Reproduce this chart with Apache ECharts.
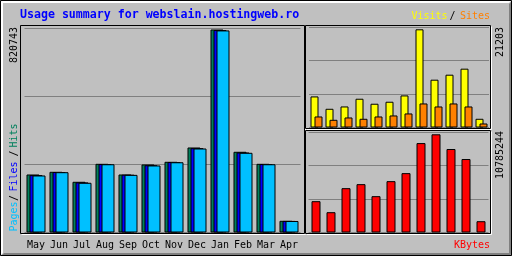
<!DOCTYPE html>
<html>
<head>
<meta charset="utf-8">
<style>
  html, body { margin: 0; padding: 0; background: #c0c0c0; }
  #chart { width: 512px; height: 256px; }
</style>
<script src="https://cdn.jsdelivr.net/npm/echarts@6/dist/echarts.min.js"></script>
</head>
<body>
<div id="chart"></div>
<script>
  // monthly usage
  var months = ['May', 'Jun', 'Jul', 'Aug', 'Sep', 'Oct', 'Nov', 'Dec', 'Jan', 'Feb', 'Mar', 'Apr']
  var hits = [234500, 245400, 205000, 277700, 234500, 275000, 285800, 343700, 820743, 326300, 277700, 47300]
  var files = [232000, 244600, 202500, 276800, 233700, 272000, 285000, 341000, 818500, 323500, 276800, 46800]
  var pages = [230500, 243800, 201000, 276000, 233000, 271000, 284000, 339600, 817000, 322200, 276000, 46500]
  var visits = [6708, 4040, 4544, 6210, 5130, 5560, 6925, 21203, 10320, 11400, 12700, 1880]
  var sites = [2380, 1660, 2164, 1880, 2380, 2600, 3030, 5190, 4540, 5190, 4540, 865]
  var kbytes = [3440000, 2230000, 4870000, 5310000, 3990000, 5640000, 6520000, 9820000, 10785244, 9170000, 8070000, 1240000]

  var GREEN = '#00805c', BLUE = '#0000ff', CYAN = '#00c0ff'
  var YELLOW = '#ffff00', ORANGE = '#ff8000', RED = '#ff0000'
  var MONO = '"DejaVu Sans Mono", "Liberation Mono", monospace'

  var maxHits = Math.max.apply(null, hits)
  var maxVisits = Math.max.apply(null, visits)
  var maxKb = Math.max.apply(null, kbytes)

  // each panel keeps 3 equal bands, the tallest bar sits just under the top
  var mainStep = Math.round(maxHits * 204 / 203 / 3)
  var visStep = Math.round(maxVisits * 100.5 / 98.2 / 3)
  var kbStep = Math.round(maxKb * 100.5 / 98.2 / 3)

  function valueAxis(idx, step) {
    return {
      type: 'value', gridIndex: idx, min: 0, max: step * 3, interval: step,
      axisLine: {show: false}, axisTick: {show: false}, axisLabel: {show: false},
      splitLine: {lineStyle: {color: '#808080', width: 1}}
    }
  }

  function catAxis(idx, showLabel) {
    return {
      type: 'category', gridIndex: idx, data: months,
      axisLine: {show: false}, axisTick: {show: false},
      axisLabel: {show: showLabel, margin: 8, color: '#000', fontFamily: MONO, fontSize: 10, interval: 0}
    }
  }

  function bar(name, data, color, xi, width, gap) {
    return {
      name: name, type: 'bar', data: data, xAxisIndex: xi, yAxisIndex: xi,
      barWidth: width, barGap: gap,
      itemStyle: {color: color, borderColor: '#000', borderWidth: 1}
    }
  }

  function txt(x, y, text, color, opt) {
    opt = opt || {}
    return {
      type: 'text', x: x, y: y, rotation: opt.up ? Math.PI / 2 : 0, z: 10,
      style: {
        text: text, fill: color, font: (opt.bold ? 'bold ' : '') + (opt.size || 10) + 'px ' + MONO,
        align: opt.align || 'center', verticalAlign: 'middle'
      }
    }
  }

  function box(x1, y1, x2, y2, color) {
    return {
      type: 'rect', z: 1,
      shape: {x: x1 + 0.5, y: y1 + 0.5, width: x2 - x1, height: y2 - y1},
      style: {fill: 'none', stroke: color, lineWidth: 1}
    }
  }

  function line(x1, y1, x2, y2, color) {
    return {
      type: 'line', z: 1,
      shape: {x1: x1 + 0.5, y1: y1 + 0.5, x2: x2 + 0.5, y2: y2 + 0.5},
      style: {stroke: color, lineWidth: 1}
    }
  }

  var frame = [
    // outer bevel
    line(1, 1, 510, 1, '#fff'), line(1, 2, 509, 2, '#fff'),
    line(1, 1, 1, 254, '#fff'), line(2, 1, 2, 253, '#fff'),
    line(2, 254, 510, 254, '#808080'), line(3, 253, 510, 253, '#808080'),
    line(510, 2, 510, 254, '#808080'), line(509, 3, 509, 254, '#808080'),
    box(0, 0, 511, 255, '#000'),
    // panels
    line(305, 26, 305, 234, '#fff'), line(21, 234, 305, 234, '#fff'),
    box(20, 25, 304, 233, '#000'),
    line(491, 26, 491, 129, '#fff'), line(306, 129, 491, 129, '#fff'),
    box(305, 25, 490, 128, '#000'),
    line(491, 131, 491, 234, '#fff'), line(306, 234, 491, 234, '#fff'),
    box(305, 130, 490, 233, '#000')
  ]

  var labels = [
    txt(20, 15, 'Usage summary for webslain.hostingweb.ro', BLUE, {bold: true, size: 11.6, align: 'left'}),
    txt(429.5, 16, 'Visits', YELLOW),
    txt(452.5, 16, '/', '#000'),
    txt(475, 16, 'Sites', ORANGE),
    txt(14, 216.5, 'Pages', CYAN, {up: true}),
    txt(14, 198, '/', '#000', {up: true}),
    txt(14, 176.5, 'Files', BLUE, {up: true}),
    txt(14, 153.5, '/', '#000', {up: true}),
    txt(14, 135.5, 'Hits', GREEN, {up: true}),
    txt(14, 45, String(maxHits), '#000', {up: true}),
    txt(500, 42, String(maxVisits), '#000', {up: true}),
    txt(500, 155, String(maxKb), '#000', {up: true}),
    txt(490, 245, 'KBytes', RED, {align: 'right'})
  ]

  var chart = echarts.init(document.getElementById('chart'))
  chart.setOption({
    animation: false,
    backgroundColor: '#c0c0c0',
    grid: [
      {left: 24.5, top: 28.5, width: 276, height: 204},
      {left: 309, top: 27, width: 180, height: 100.5},
      {left: 308.5, top: 132, width: 180, height: 100.5}
    ],
    xAxis: [catAxis(0, true), catAxis(1, false), catAxis(2, false)],
    yAxis: [valueAxis(0, mainStep), valueAxis(1, visStep), valueAxis(2, kbStep)],
    series: [
      bar('Hits', hits, GREEN, 0, 13, '-76.92%'),
      bar('Files', files, BLUE, 0, 13, '-76.92%'),
      bar('Pages', pages, CYAN, 0, 13, '-76.92%'),
      bar('Visits', visits, YELLOW, 1, 8, '-50%'),
      bar('Sites', sites, ORANGE, 1, 8, '-50%'),
      bar('KBytes', kbytes, RED, 2, 9, '0%')
    ],
    graphic: frame.concat(labels)
  })
</script>
</body>
</html>
